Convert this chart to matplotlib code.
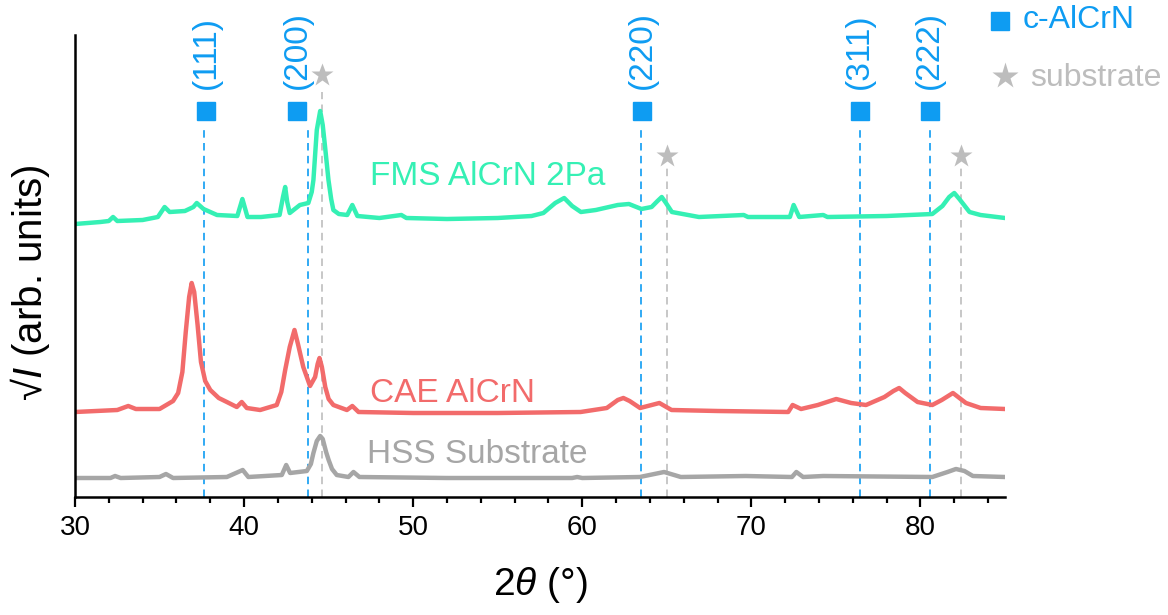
import numpy as np
import matplotlib
matplotlib.use("Agg")
import matplotlib.pyplot as plt

plt.rcParams['font.family'] = ['Liberation Sans', 'DejaVu Sans']
plt.rcParams['mathtext.fontset'] = 'custom'
plt.rcParams['mathtext.rm'] = 'Liberation Sans'
plt.rcParams['mathtext.it'] = 'Liberation Sans:italic'

# diffractogrammes (2theta en degres, racine de l'intensite + decalage, u.a.)
fms_tt = [30.0, 31.5, 32.0, 32.25, 32.5, 34.0, 34.9, 35.3, 35.6, 36.5, 37.0, 37.2, 37.6, 38.4,
          39.6, 39.9, 40.2, 41.0, 42.1, 42.3, 42.43, 42.55, 42.7, 43.3, 43.8, 44.0, 44.1, 44.3,
          44.5, 44.65, 44.79, 44.99, 45.15, 45.28, 45.6, 46.1, 46.4, 46.7, 48.0, 49.3, 49.6,
          52.0, 55.0, 57.0, 57.7, 58.4, 58.93, 59.4, 59.92, 60.8, 62.1, 62.76, 63.5, 64.1,
          64.45, 64.7, 64.95, 65.3, 66.9, 69.55, 69.8, 72.28, 72.5, 72.83, 74.25, 74.5, 78.0,
          80.7, 81.3, 81.7, 82.0, 82.3, 82.9, 83.55, 85.0]
fms_I = [273, 275, 276, 280, 276, 277, 280, 290, 285, 286, 290, 294, 288, 282,
         281, 298, 280, 280, 282, 300, 310, 295, 284, 292, 294, 305, 317, 367,
         386, 372, 350, 317, 298, 287, 283, 282, 292, 281, 279, 282, 279,
         278, 279, 281, 284, 294, 299, 291, 285, 287, 292, 293, 288, 290,
         296, 300, 294, 285, 280, 282, 280, 280, 292, 280, 282, 280, 281,
         283, 291, 300, 304, 298, 285, 282, 279]

cae_tt = [30.0, 32.5, 33.15, 33.6, 35.0, 35.4, 35.8, 36.1, 36.35, 36.55, 36.75, 36.9, 37.05,
          37.25, 37.45, 37.7, 38.0, 38.5, 38.98, 39.57, 39.86, 40.16, 40.95, 41.93, 42.2,
          42.43, 42.7, 42.98, 43.2, 43.5, 43.9, 44.2, 44.35, 44.46, 44.6, 44.8, 45.0,
          45.28, 46.08, 46.4, 46.77, 50.0, 55.0, 59.9, 61.45, 62.1, 62.43, 62.8, 63.42, 64.56,
          65.28, 68.0, 72.18, 72.44, 72.94, 73.93, 75.02, 75.9, 76.78, 77.87, 78.4, 78.74,
          79.1, 79.83, 80.7, 81.26, 81.92, 82.69, 83.56, 85.0]
cae_I = [85, 87, 91, 88, 88, 92, 96, 104, 125, 165, 200, 214, 205,
         172, 135, 116, 107, 99, 95, 90, 95, 89, 87, 92, 105,
         127, 150, 167, 152, 130, 111, 120, 133, 139, 130, 110, 98,
         92, 87, 91, 85, 84, 84, 85, 89, 97, 99, 96, 89, 94,
         87, 86, 85, 92, 88, 92, 98, 94, 92, 100, 106, 109,
         104, 95, 92, 97, 104, 94, 89, 88]

hss_tt = [30.0, 32.1, 32.37, 32.7, 35.0, 35.38, 35.8, 38.98, 39.92, 40.25, 42.23, 42.49,
          42.72, 43.71, 43.95, 44.1, 44.3, 44.5, 44.65, 44.85, 45.0, 45.2, 45.48, 46.17, 46.47,
          46.82, 52.0, 59.4, 59.7, 60.0, 63.4, 64.84, 65.83, 69.66, 72.4, 72.66, 73.06, 74.25,
          80.7, 81.6, 82.1, 82.6, 83.1, 85.0]
hss_I = [19, 19, 21, 19, 20, 23, 19, 20, 27, 20, 22, 32,
         24, 26, 33, 44, 56, 61, 58, 45, 37, 28, 22, 20, 25,
         20, 19, 19, 20, 19, 20, 25, 20, 21, 20, 25, 20, 21,
         20, 25, 28, 26, 21, 20]

# positions des pics de reference
alcrn_pos = [37.6, 43.8, 63.5, 76.4, 80.55]
alcrn_mark = [37.75, 43.15, 63.55, 76.4, 80.55]
alcrn_hkl = ['(111)', '(200)', '(220)', '(311)', '(222)']
sub_pos = [44.6, 65.0, 82.4]
sub_top = [405, 329, 329]

c_fms = '#35F0B4'
c_cae = '#F26B6B'
c_hss = '#A6A6A6'
c_blue = '#0E9CF2'
c_star = '#BDBDBD'

fig = plt.figure(figsize=(11.68, 6.15), dpi=100)
ax = fig.add_axes([75 / 1168, 118 / 615, 930 / 1168, 462 / 615])

# lignes de reference
ax.vlines(alcrn_pos, 0, 370, colors=c_blue, lw=1.2, linestyles=(0, (4.5, 3.2)), zorder=1)
ax.vlines(sub_pos, 0, sub_top, colors=c_star, lw=1.2, linestyles=(0, (4.5, 3.2)), zorder=1)
ax.plot(alcrn_mark, [386] * len(alcrn_mark), 's', color=c_blue, ms=12.5, zorder=3)
for p, h in zip(alcrn_mark, alcrn_hkl):
    ax.text(p, 408, h, rotation=90, ha='center', va='bottom', color=c_blue, fontsize=24)
ax.plot(sub_pos, [422, 341, 341], '*', color=c_star, ms=17, mec='none', zorder=3)

# courbes
ax.plot(hss_tt, hss_I, color=c_hss, lw=3.2, zorder=2)
ax.plot(cae_tt, cae_I, color=c_cae, lw=3.2, zorder=2)
ax.plot(fms_tt, fms_I, color=c_fms, lw=3.2, zorder=2)

ax.text(47.46, 312, 'FMS AlCrN 2Pa', color=c_fms, fontsize=24, va='baseline')
ax.text(47.46, 95, 'CAE AlCrN', color=c_cae, fontsize=24, va='baseline')
ax.text(47.27, 34, 'HSS Substrate', color=c_hss, fontsize=24, va='baseline')

# legende manuelle
ax.plot([0.9946], [1.03], 's', color=c_blue, ms=12.5, transform=ax.transAxes, clip_on=False)
ax.text(1.0194, 1.0325, 'c-AlCrN', color=c_blue, fontsize=23, va='center',
        transform=ax.transAxes)
ax.plot([1.0], [0.911], '*', color=c_star, ms=20, mec='none', transform=ax.transAxes,
        clip_on=False)
ax.text(1.0269, 0.907, 'substrate', color=c_star, fontsize=23, va='center',
        transform=ax.transAxes)

ax.set_xlim(30, 85)
ax.set_ylim(0, 462)
ax.set_xticks(np.arange(30, 81, 10))
ax.set_xticks(np.arange(30, 86, 2), minor=True)
ax.set_yticks([])
ax.tick_params(axis='x', which='major', length=7, width=1.6, labelsize=20, pad=6)
ax.tick_params(axis='x', which='minor', length=4.5, width=1.6)
for s in ['top', 'right']:
    ax.spines[s].set_visible(False)
for s in ['left', 'bottom']:
    ax.spines[s].set_linewidth(1.8)

ax.set_xlabel(r'2$\theta$ (°)', fontsize=28, labelpad=17)
ax.set_ylabel(r'√$I$ (arb. units)', fontsize=29)
ax.yaxis.set_label_coords(-0.025, 0.463)

fig.savefig('out.png', dpi=100)
